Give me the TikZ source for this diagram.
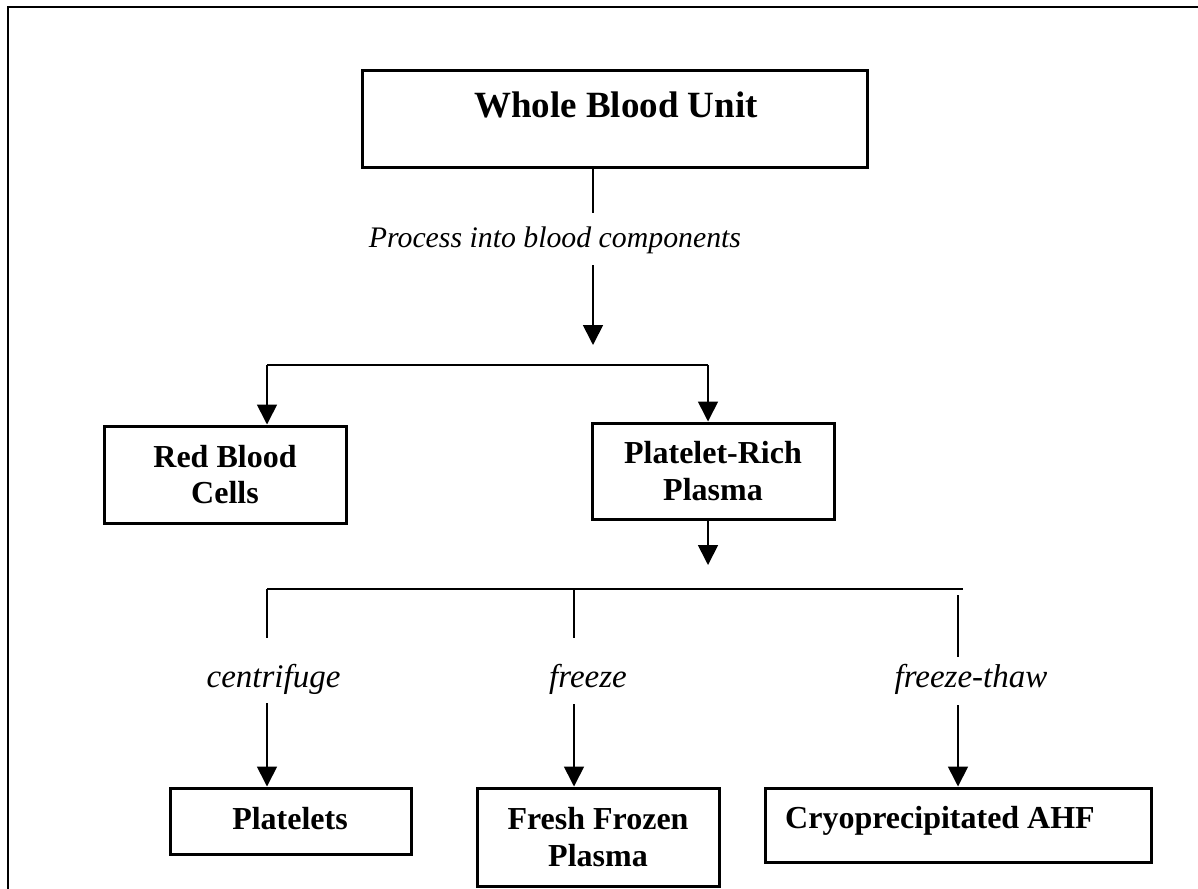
\documentclass[tikz,border=0pt]{standalone}
\usepackage{fontspec}
\setmainfont{Liberation Serif}
\usetikzlibrary{arrows.meta}
\begin{document}
\begin{tikzpicture}[x=0.5pt,y=-0.5pt,
  box/.style={draw, line width=1.5pt, inner sep=0pt, align=center, font=\bfseries\fontsize{16}{18.3}\selectfont},
  big/.style={font=\bfseries\fontsize{18.5}{22}\selectfont, inner sep=0pt, anchor=base},
  btxt/.style={font=\bfseries\fontsize{16}{18.3}\selectfont, inner sep=0pt, anchor=base},
  conn/.style={line width=0.85pt},
  arr/.style={conn, -{Triangle[width=10pt,length=10pt]}},
  lab/.style={font=\itshape\fontsize{16.5}{19}\selectfont, inner sep=0pt, anchor=base},
]
\useasboundingbox (0,0) rectangle (1198,888);
\clip (0,0) rectangle (1198,888);
\draw[line width=0.7pt] (8,7) rectangle (1230,900);

% boxes
\node[box, minimum width=252.5pt, minimum height=48pt] (wbu) at (614.5,119) {};
\node[big] (wbut) at (616,118) {Whole Blood Unit};
\node[box, minimum width=121pt, minimum height=48.5pt] (rbc) at (225,474.5) {Red Blood\\Cells};
\node[box, minimum width=121pt, minimum height=48pt] (prp) at (713,471) {Platelet-Rich\\Plasma};
\node[box, minimum width=120.5pt, minimum height=33pt] (plt) at (290.5,821) {};
\node[btxt] (pltt) at (290,829) {Platelets};
\node[box, minimum width=121pt, minimum height=49pt] (ffp) at (598,837) {Fresh Frozen\\Plasma};
\node[box, minimum width=193pt, minimum height=37pt] (cryo) at (958,825) {};
\node[btxt] (cryot) at (940,828) {Cryoprecipitated AHF};

% top connector
\coordinate (t1) at (593,213);
\coordinate (t2) at (593,265);
\coordinate (t3) at (593,345);
\node[lab, anchor=base, font=\itshape\fontsize{14.9}{18}\selectfont] (proc) at (555,247) {Process into blood components};
\draw[conn] (wbu.south -| t1) -- (t1);
\draw[arr] (t2) -- (t3);

% first split
\coordinate (s1l) at (267,365);
\coordinate (s1r) at (708,365);
\draw[conn] (s1l) -- (s1r);
\draw[arr] (s1l) -- (s1l |- rbc.north);
\draw[arr] (s1r) -- (s1r |- prp.north);
\coordinate (t4) at (708,565);
\draw[arr] (prp.south -| t4) -- (t4);

% second split
\coordinate (s2l) at (267,589);
\coordinate (s2m) at (574,589);
\coordinate (s2r) at (963,589);
\draw[conn] (s2l) -- (s2r);
\coordinate (v1) at (267,638);
\coordinate (v2) at (574,638);
\coordinate (v3a) at (958,595);
\coordinate (v3b) at (958,657);
\draw[conn] (s2l) -- (v1);
\draw[conn] (s2m) -- (v2);
\draw[conn] (v3a) -- (v3b);

\node[lab] (lc) at (273.5,687) {centrifuge};
\node[lab] (lf) at (588,687) {freeze};
\node[lab] (lt) at (971,687) {freeze-thaw};

\coordinate (a1) at (267,703);
\coordinate (a2) at (574,704);
\coordinate (a3) at (958,705);
\draw[arr] (a1) -- (a1 |- plt.north);
\draw[arr] (a2) -- (a2 |- ffp.north);
\draw[arr] (a3) -- (a3 |- cryo.north);
\end{tikzpicture}
\end{document}
